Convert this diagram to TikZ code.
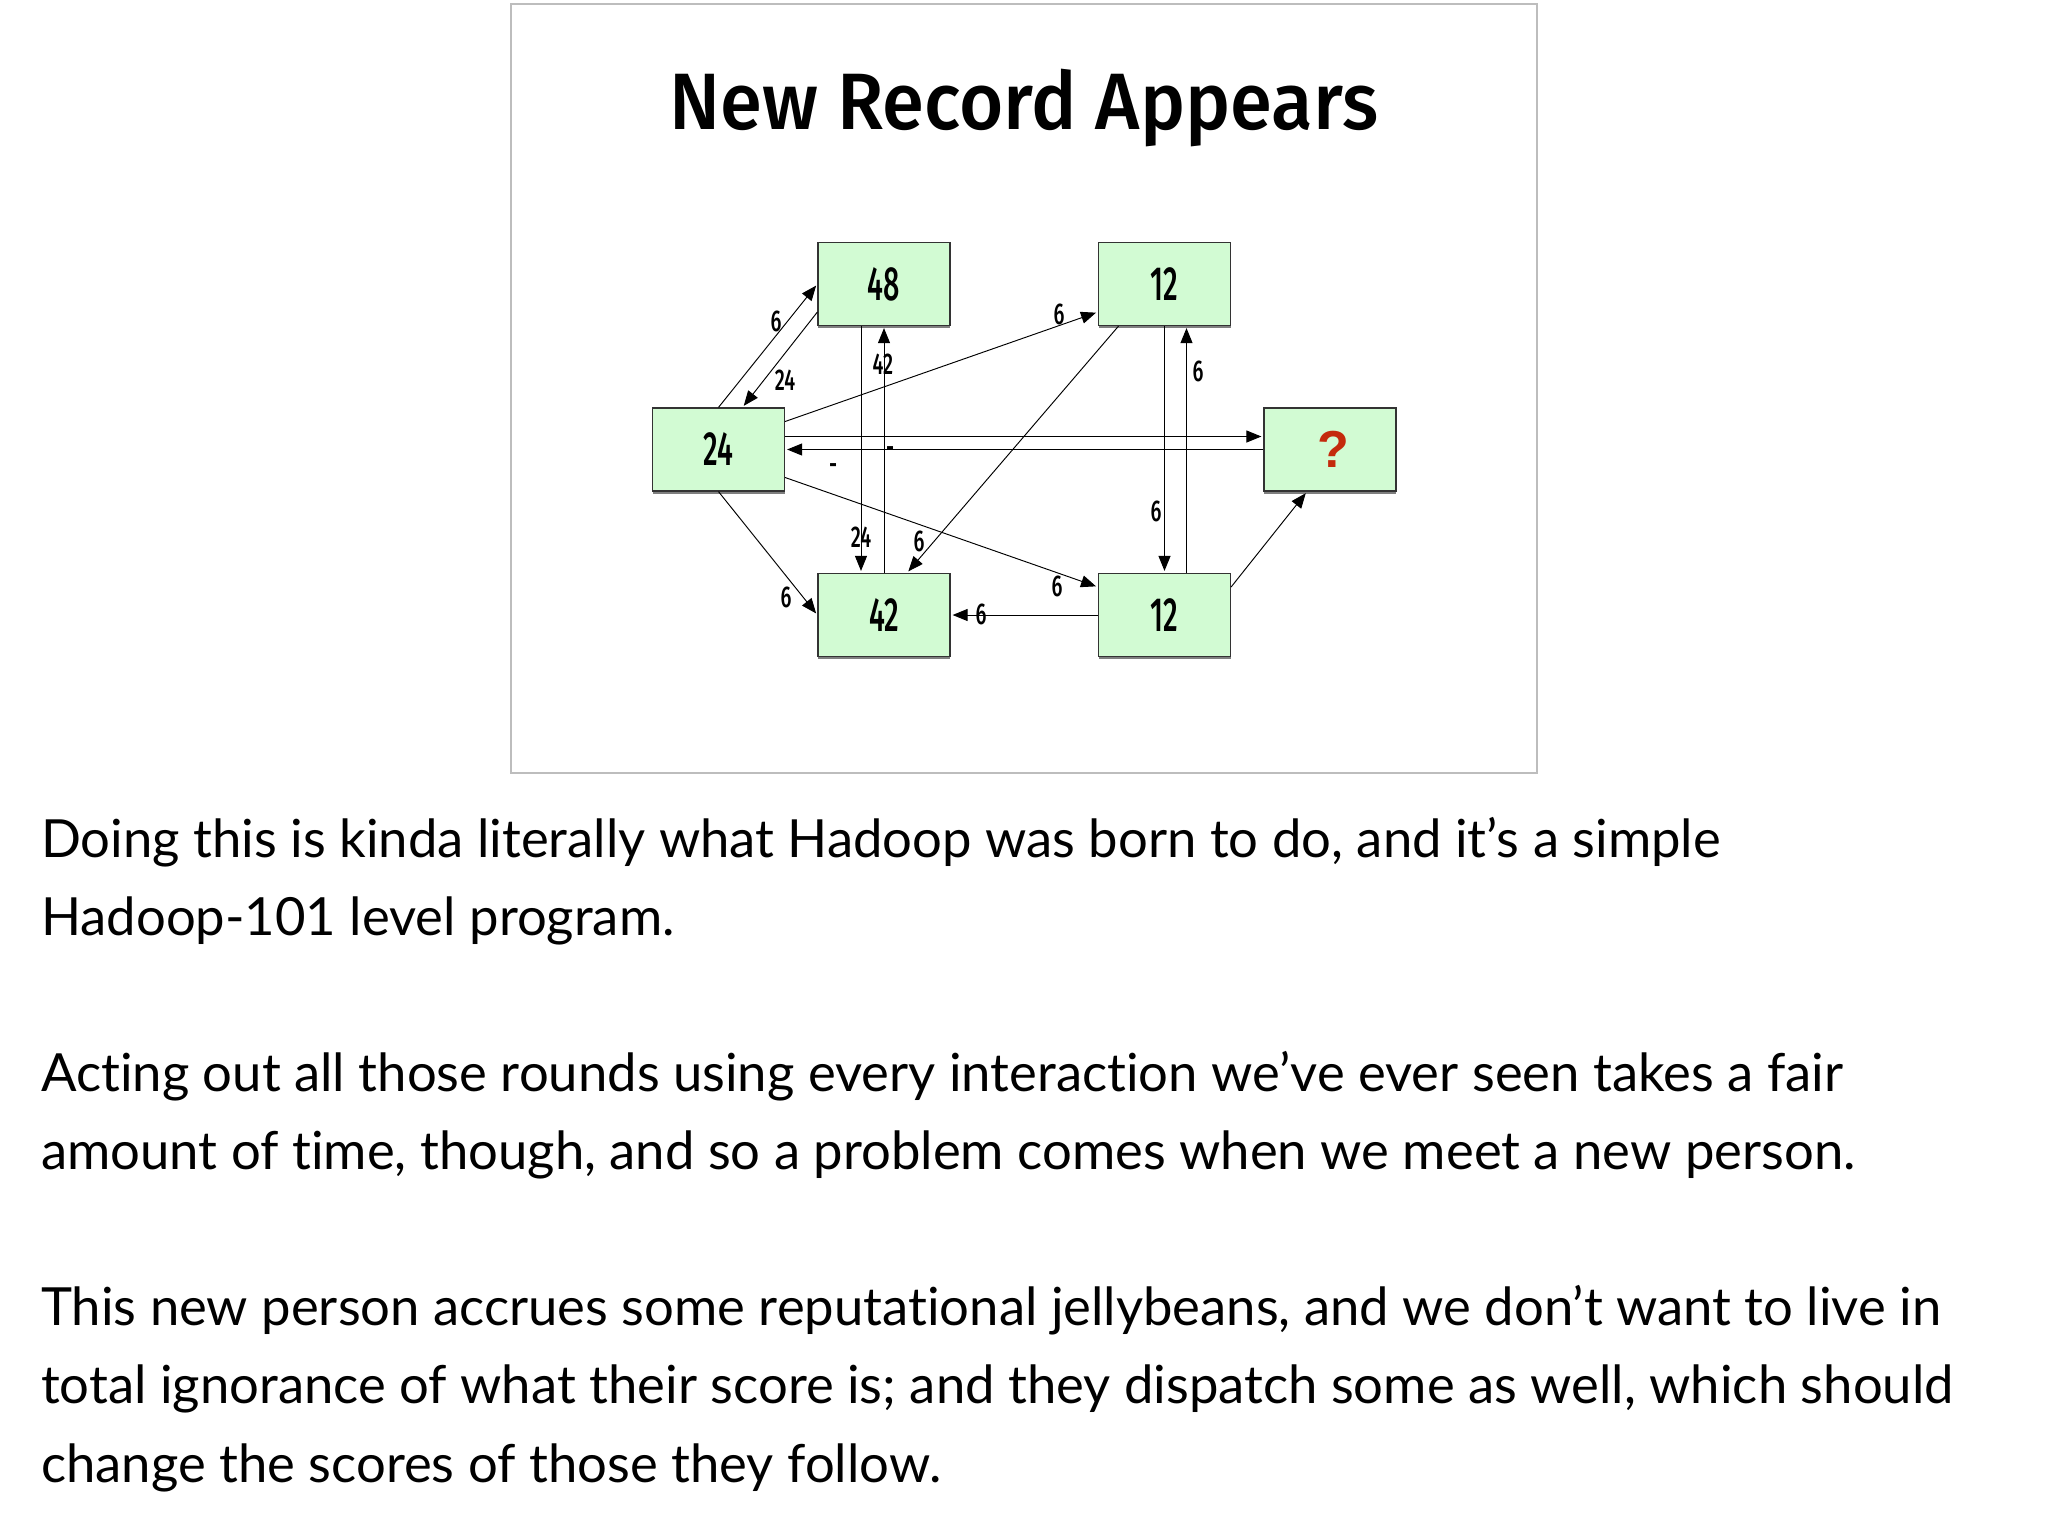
\documentclass[tikz,border=0pt]{standalone}
\usepackage{fontspec}
\setmainfont[Ligatures=NoCommon]{Lato}
\newfontfamily\titlefont[FakeStretch=0.95]{Fira Sans Medium}
\newfontfamily\boxfont[FakeStretch=0.6]{Fira Sans Medium}
\newfontfamily\edgefont[FakeStretch=0.66]{Fira Sans Medium}
\newfontfamily\markfont{Liberation Sans}
\usetikzlibrary{arrows.meta, calc, shadows}

\definecolor{boxgreen}{HTML}{D2FBD3}
\definecolor{markred}{HTML}{C42A0C}
\definecolor{framegray}{HTML}{BDBDBD}

\tikzset{
    person/.style={draw=black!80, line width=1.2pt, fill=boxgreen, minimum width=132pt, minimum height=83pt,
        inner sep=0pt, font=\boxfont\fontsize{48}{48}\selectfont,
        drop shadow={shadow xshift=0pt, shadow yshift=-2.6pt, opacity=0.5, fill=black}},
    flow/.style={draw=black, line width=0.95pt, -{Triangle[length=15pt,width=12pt]}, shorten >=2pt},
    weight/.style={inner sep=0pt, font=\edgefont\fontsize{30}{30}\selectfont},
    para/.style={anchor=north west, inner sep=0pt, align=left, font=\fontsize{52.6}{78.3}\selectfont},
}

\begin{document}
\begin{tikzpicture}[x=1pt, y=-1pt]
    \useasboundingbox (0,0) rectangle (2048,1527);
    \node[draw=framegray, line width=1.2pt, minimum width=1026pt, minimum height=769pt, inner sep=0pt] (slide) at (1024,388.5) {};
    \node[font=\titlefont\fontsize{80}{80}\selectfont] (title) at (1024,108) {New Record Appears};

    \node[person] (a) at (718.5,449.5) {24};
    \node[person] (b) at (884,284) {48};
    \node[person] (c) at (884,615) {42};
    \node[person] (d) at (1164.5,284) {12};
    \node[person] (e) at (1164.5,615) {12};
    \node[person, font=\markfont\bfseries\fontsize{52}{52}\selectfont, text=markred] (q) at (1330,449.5) {\hspace*{6pt}?};

    \draw[flow] (a.north) -- (b.west);
    \draw[flow] ($(b.west)+(0,28)$) -- ($(a.north)+(24,0)$);
    \draw[flow] ($(a.east)+(0,-28)$) -- ($(d.west)+(0,28)$);
    \draw[flow] ($(a.east)+(0,-13)$) -- ($(q.west)+(0,-13)$);
    \draw[flow] (q.west) -- (a.east);
    \draw[flow] ($(a.east)+(0,28)$) -- ($(e.west)+(0,-28)$);
    \draw[flow] (a.south) -- (c.west);
    \draw[flow] ($(b.south)+(-23,0)$) -- ($(c.north)+(-23,0)$);
    \draw[flow] (c.north) -- (b.south);
    \draw[flow] ($(d.south)+(-46,0)$) -- ($(c.north)+(23,0)$);
    \draw[flow] (d.south) -- (e.north);
    \draw[flow] ($(e.north)+(22,0)$) -- ($(d.south)+(22,0)$);
    \draw[flow] (e.west) -- (c.east);
    \draw[flow] ($(e.east)+(0,-28)$) -- ($(q.south)+(-23,0)$);

    \node[weight] (w1) at (776,321) {6};
    \node[weight] (w2) at (785,380) {24};
    \node[weight] (w3) at (1059,314) {6};
    \node[weight] (w4) at (883,364) {42};
    \node[weight] (w5) at (890,452) {-};
    \node[weight] (w6) at (833,469) {-};
    \node[weight] (w7) at (861,537) {24};
    \node[weight] (w8) at (919,541) {6};
    \node[weight] (w9) at (1057,586) {6};
    \node[weight] (w10) at (786,597) {6};
    \node[weight] (w11) at (981,614) {6};
    \node[weight] (w12) at (1198,371) {6};
    \node[weight] (w13) at (1156,511) {6};

    \node[para] (p1) at (41,817) {Doing this is kinda literally what Hadoop was born to do, and it’s a simple\\Hadoop-101 level program.};
    \node[para] (p2) at (41,1051) {Acting out all those rounds using every interaction we’ve ever seen takes a fair\\amount of time, though, and so a problem comes when we meet a new person.};
    \node[para] (p3) at (41,1285) {This new person accrues some reputational jellybeans, and we don’t want to live in\\total ignorance of what their score is; and they dispatch some as well, which should\\change the scores of those they follow.};
\end{tikzpicture}
\end{document}
